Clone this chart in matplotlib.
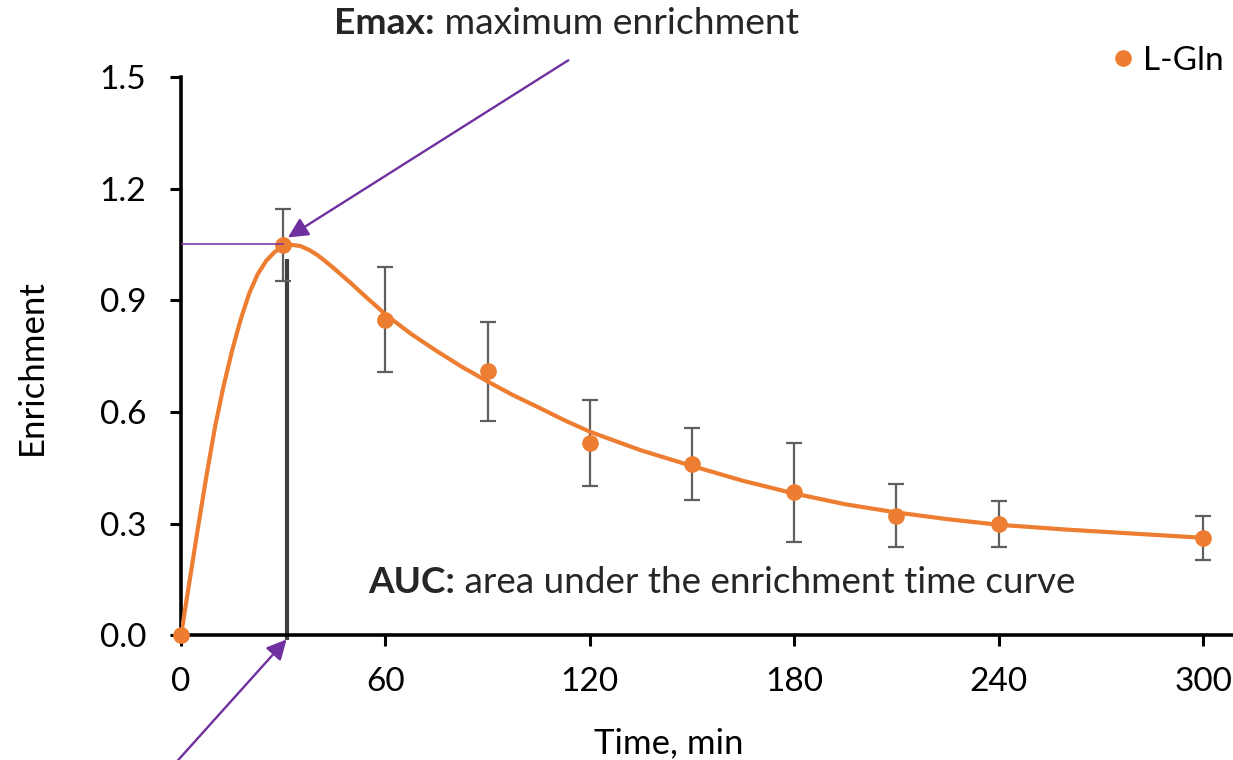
import matplotlib
matplotlib.use("Agg")
import matplotlib.pyplot as plt
from matplotlib.lines import Line2D

plt.rcParams['font.family'] = ['Lato', 'DejaVu Sans']

# measured points (mean +/- SD)
time_pts = [0, 30, 60, 90, 120, 150, 180, 210, 240, 300]
enrich_pts = [0.0, 1.049, 0.848, 0.709, 0.516, 0.460, 0.384, 0.321, 0.299, 0.261]
enrich_sd = [0.0, 0.096, 0.141, 0.133, 0.115, 0.096, 0.132, 0.085, 0.062, 0.060]

# fitted curve
curve_t = [0, 2.5, 5, 7.5, 10, 12.5, 15, 17.5, 20, 22.5, 25, 27.5, 30, 32.5, 35,
           37.5, 40, 42.5, 45, 47.5, 50, 52.5, 55, 57.5, 60, 67.5, 75, 82.5, 90,
           97.5, 105, 112.5, 120, 135, 150, 165, 180, 195, 210, 225, 240, 260,
           280, 300]
curve_y = [0.0, 0.145, 0.29, 0.43, 0.56, 0.67, 0.765, 0.848, 0.918, 0.97, 1.006,
           1.03, 1.044, 1.049, 1.046, 1.036, 1.022, 1.004, 0.985, 0.965, 0.945,
           0.924, 0.903, 0.883, 0.862, 0.81, 0.764, 0.721, 0.682, 0.645, 0.612,
           0.578, 0.547, 0.497, 0.455, 0.415, 0.381, 0.352, 0.330, 0.312, 0.297,
           0.284, 0.273, 0.262]

x_ticks = [0, 60, 120, 180, 240, 300]
y_ticks = [0.0, 0.3, 0.6, 0.9, 1.2, 1.5]

emax_t, emax_val = 30, 1.05
auc_t = 31

orange = '#ED7D31'
purple = '#7030A0'
W, H = 1233, 760

fig = plt.figure(figsize=(W / 100, H / 100), dpi=100)
ax = fig.add_axes([181 / W, 124.7 / H, 1 - 181 / W, 558.3 / H])

ax.plot(curve_t, curve_y, color=orange, lw=3, zorder=3,
        solid_capstyle='round', solid_joinstyle='round')
ax.errorbar(time_pts, enrich_pts, yerr=enrich_sd, fmt='none', ecolor='#5f5f5f',
            elinewidth=1.6, capsize=6, capthick=1.6, zorder=2)
ax.plot(time_pts, enrich_pts, 'o', color=orange, ms=11, zorder=4, clip_on=False)

# Emax guide line and AUC bar
ax.plot([0, emax_t], [emax_val, emax_val], color=purple, lw=1.1, zorder=5)
ax.plot([auc_t, auc_t], [-0.012, 1.01], color='#404040', lw=3, zorder=1,
        clip_on=False, solid_capstyle='butt')

ax.set_xlim(0, 308.8)
ax.set_ylim(0, 1.5)
ax.set_xticks(x_ticks)
ax.set_yticks(y_ticks)
ax.set_yticklabels([f'{v:.1f}' for v in y_ticks])
ax.tick_params(axis='both', labelsize=24, width=2.2, length=8, color='black')
ax.tick_params(axis='y', pad=17)
ax.tick_params(axis='x', pad=15)
for s in ['top', 'right']:
    ax.spines[s].set_visible(False)
for s in ['left', 'bottom']:
    ax.spines[s].set_linewidth(2.6)

# arrows
arrow = dict(arrowstyle='-|>', color=purple, lw=1.7, mutation_scale=30,
             shrinkA=0, shrinkB=0)
ax.annotate('', xy=(31.4, 1.069), xytext=(113.7, 1.545), arrowprops=arrow,
            annotation_clip=False)
ax.annotate('', xy=(31.0, -0.011), xytext=(-1.3, -0.34), arrowprops=arrow,
            annotation_clip=False)

# annotation texts: bold key followed by plain description
renderer = fig.canvas.get_renderer()


def key_text(x, y, key, desc, size):
    t = fig.text(x / W, 1 - y / H, key, fontsize=size, fontweight='bold',
                 color='#262626', va='baseline')
    bb = t.get_window_extent(renderer)
    fig.text(bb.x1 / W, 1 - y / H, ' ' + desc, fontsize=size,
             color='#262626', va='baseline')


key_text(334, 34.3, 'Emax:', 'maximum enrichment', 26.8)
key_text(368, 593, 'AUC:', 'area under the enrichment time curve', 26.6)

fig.text(669 / W, 1 - 753 / H, 'Time, min', fontsize=25, ha='center',
         va='baseline')
fig.text(31.7 / W, 1 - 367 / H, 'Enrichment', fontsize=25, ha='center',
         va='center', rotation=90)

handle = Line2D([], [], marker='o', ls='', color=orange, ms=11)
fig.legend([handle], ['L-Gln'], loc='center left',
           bbox_to_anchor=(1106 / W, 1 - 61 / H), frameon=False, fontsize=24,
           handlelength=1.0, handletextpad=0.1, borderpad=0, borderaxespad=0)

fig.savefig('out.png', dpi=100)
